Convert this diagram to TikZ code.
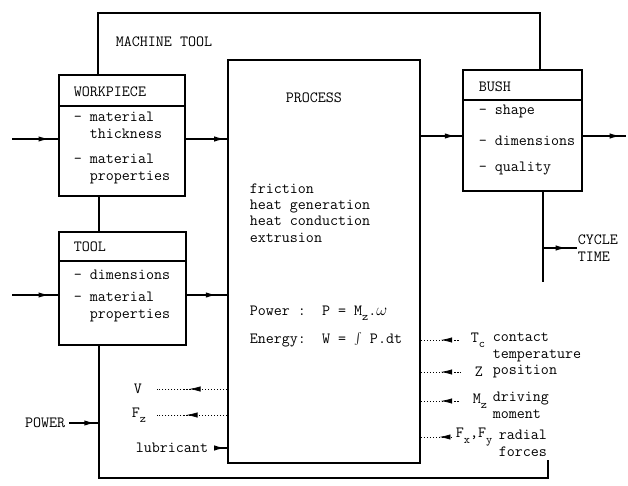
\documentclass[tikz,border=0pt]{standalone}
\usepackage{fontspec}
\usetikzlibrary{arrows.meta,decorations.markings,fit}

\tikzset{
  box/.style={draw, inner sep=0pt},
  txt/.style={inner sep=0pt, align=left, font=\ttfamily\fontsize{13.3}{14.5}\selectfont},
  tipat/.style={postaction={decorate}, decoration={markings,
      mark=at position #1 with {\arrow{Latex[length=3.4mm,width=1.6mm]}}}},
  tipback/.style={postaction={decorate}, decoration={markings,
      mark=at position #1 with {\arrowreversed{Latex[length=3.4mm,width=1.6mm]}}}},
  sensor/.style={line width=0.6pt, dash pattern=on 1pt off 1.6pt}
}
\newcommand{\lowsub}[1]{\raisebox{-0.8ex}{\fontsize{10}{10}\selectfont #1}}

\begin{document}
\begin{tikzpicture}[x=0.03cm, y=-0.03cm, line width=1.4pt]
\useasboundingbox (0,0) rectangle (628,486);

% blocks
\node[box, fit={(59,75) (185,196)}] (work) {};
\node[box, fit={(59,232) (186,345)}] (tool) {};
\node[box, fit={(228,60) (420,463)}] (proc) {};
\node[box, fit={(463,70) (582,191)}] (bush) {};
\draw ([yshift=-0.96cm]work.north west) -- ([yshift=-0.96cm]work.north east);
\draw ([yshift=-0.9cm]tool.north west) -- ([yshift=-0.9cm]tool.north east);
\draw ([yshift=-0.93cm]bush.north west) -- ([yshift=-0.93cm]bush.north east);

% texts in the blocks
\node[txt, anchor=west] (workname) at (73,92) {WORKPIECE};
\node[txt, anchor=west] (workitems) at (73,148) {- material\\\phantom{- }thickness\\[7pt]- material\\\phantom{- }properties};
\node[txt, anchor=west] (toolname) at (73,247) {TOOL};
\node[txt, anchor=west] (toolitems) at (73,296) {- dimensions\\[5pt]- material\\\phantom{- }properties};
\node[txt, anchor=west] (bushname) at (478,87) {BUSH};
\node[txt, anchor=west] (bushitems) at (478,140) {- shape\\[12pt]- dimensions\\[8pt]- quality};
\node[txt, anchor=west] (proctitle) at (285,98) {PROCESS};
\node[txt, anchor=west, font=\ttfamily\fontsize{13.3}{13.9}\selectfont] (proclist) at (249,213) {friction\\heat generation\\heat conduction\\extrusion};
\node[txt, anchor=west] (pform) at (249,313) {Power :\ \ P = M\lowsub{z}.$\omega$};
\node[txt, anchor=west] (eform) at (249,340) {Energy:\ \ W = $\int$ P.dt};

% machine tool outline
\node[txt, anchor=west] (mach) at (115,42) {MACHINE TOOL};
\coordinate (mtl) at (98,13);
\coordinate (mtr) at (540,13);
\coordinate (mbl) at (99,478);
\coordinate (mbr) at (548,478);
\coordinate (mbrend) at (548,460);
\draw (work.north -| mtl) -- (mtl) -- (mtr) -- (bush.north -| mtr);
\draw (work.south -| mbl) -- (tool.north -| mbl);
\draw (tool.south -| mbl) -- (mbl) -- (mbr) -- (mbrend);

% main flow
\coordinate (win) at (12,139);
\coordinate (tin) at (12,295);
\coordinate (bout) at (626,136);
\draw[tipat=-0.25cm] (win) -- (win -| work.west);
\draw[tipat=-0.05cm] (work.east |- win) -- (proc.west |- win);
\draw[tipat=-0.25cm] (tin) -- (tin -| tool.west);
\draw[tipat=-0.3cm] (tool.east |- tin) -- (proc.west |- tin);
\draw[tipat=-0.18cm] (proc.east |- bout) -- (bush.west |- bout);
\draw[tipat=-0.15cm] (bush.east |- bout) -- (bout);

% cycle time
\coordinate (cycend) at (543,282);
\node[txt, anchor=west] (cycle) at (577,248) {CYCLE\\TIME};
\draw (bush.south -| cycend) -- (cycend);
\draw[tipat=-0.3cm] (cycend |- cycle) -- (cycle.west);

% inputs at the bottom left
\node[txt, anchor=east] (pwr) at (66,423) {POWER};
\draw[tipat=-0.1cm] ([xshift=0.1cm]pwr.east) -- (mbl |- pwr);
\node[txt, anchor=west] (vlbl) at (133,389) {V};
\node[txt, anchor=west] (fz) at (131,415) {F\lowsub{z}};
\node[txt, anchor=west] (lub) at (135,448) {lubricant};
\draw[sensor, tipat=1.14cm] (proc.west |- vlbl) -- ([xshift=0.42cm]vlbl.east);
\draw[sensor, tipat=1.23cm] (proc.west |- fz) -- ([xshift=0.3cm]fz.east);
\draw[tipat=-0.05cm] ([xshift=0.15cm]lub.east) -- (proc.west |- lub);

% measured quantities
\node[txt, anchor=west] (tc) at (470,340) {T\lowsub{c}};
\node[txt, anchor=west] (tctext) at (492,347) {contact\\temperature};
\node[txt, anchor=west] (zpos) at (474,372) {Z};
\node[txt, anchor=west] (zpostext) at (492,372) {position};
\node[txt, anchor=west] (mz) at (472,401) {M\lowsub{z}};
\node[txt, anchor=west] (mztext) at (492,405) {driving\\moment};
\node[txt, anchor=west] (fxy) at (455,437) {F\lowsub{x},F\lowsub{y}};
\node[txt, anchor=west] (fxytext) at (498,443) {radial\\forces};
\draw[sensor, tipback=0.6cm] (proc.east |- tc) -- ([xshift=-0.3cm]tc.west);
\draw[sensor, tipback=0.6cm] (proc.east |- zpos) -- ([xshift=-0.4cm]zpos.west);
\draw[sensor, tipback=0.6cm] (proc.east |- mz) -- ([xshift=-0.35cm]mz.west);
\draw[sensor, tipback=0.55cm] (proc.east |- fxy) -- ([xshift=-0.05cm]fxy.west);
\end{tikzpicture}
\end{document}
